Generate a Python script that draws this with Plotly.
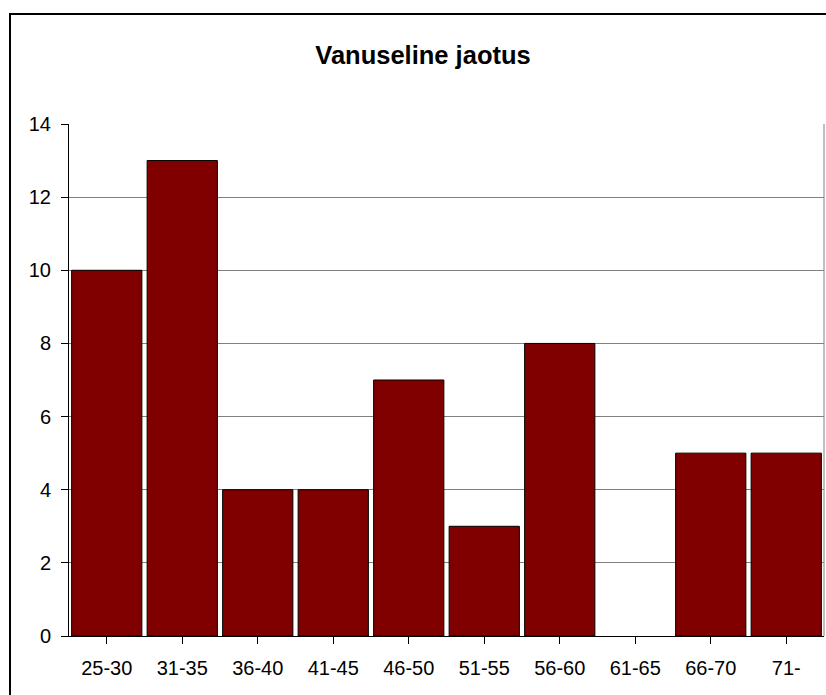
import plotly.graph_objects as go

categories = ["25-30", "31-35", "36-40", "41-45", "46-50", "51-55", "56-60", "61-65", "66-70", "71-"]
counts = [10, 13, 4, 4, 7, 3, 8, 0, 5, 5]
y_ticks = [0, 2, 4, 6, 8, 10, 12, 14]

W, H = 826, 695
L = 69
T = 124
R = W - 824
B = H - 636
pw = W - L - R
ph = H - T - B

def px_to_paper_x(px):
    return (px - L) / pw

def px_to_paper_y(py):
    return (H - B - py) / ph

line_widths = [1 if c > 0 else 0 for c in counts]

fig = go.Figure()
fig.add_trace(go.Bar(
    x=categories, y=counts,
    marker=dict(color="#800000", line=dict(color="black", width=line_widths)),
))

fig.update_layout(
    width=W, height=H,
    margin=dict(l=L, r=R, t=T, b=B),
    paper_bgcolor="white", plot_bgcolor="white",
    bargap=0.07,
    showlegend=False,
    font=dict(family="Liberation Sans, Arial, sans-serif", size=20, color="black"),
    title=dict(text="<b>Vanuseline jaotus</b>", x=423 / W, xanchor="center",
               y=1 - 55 / H, yanchor="middle", font=dict(size=25.5)),
    xaxis=dict(showline=True, linecolor="black", linewidth=1, ticks="outside",
               ticklen=7, tickcolor="black", showgrid=False, ticklabelstandoff=7,
               fixedrange=True),
    yaxis=dict(range=[0, 14], tickvals=y_ticks, showline=True, linecolor="black",
               linewidth=1, ticks="outside", ticklen=7, tickcolor="black",
               showgrid=True, gridcolor="#808080", gridwidth=1, zeroline=False,
               ticklabelstandoff=6),
)

# right plot-area border
fig.add_shape(type="line", xref="paper", yref="paper", x0=1, x1=1, y0=0, y1=1,
              line=dict(color="#808080", width=1))
# outer chart border
fig.add_shape(type="rect", xref="paper", yref="paper",
              x0=px_to_paper_x(10), x1=px_to_paper_x(850),
              y0=px_to_paper_y(720), y1=px_to_paper_y(14),
              line=dict(color="black", width=2), layer="above")

fig.write_html(
    "out.html",
    config={"displayModeBar": False},
    post_script="document.body.style.margin='0';document.body.style.overflow='hidden';",
)
